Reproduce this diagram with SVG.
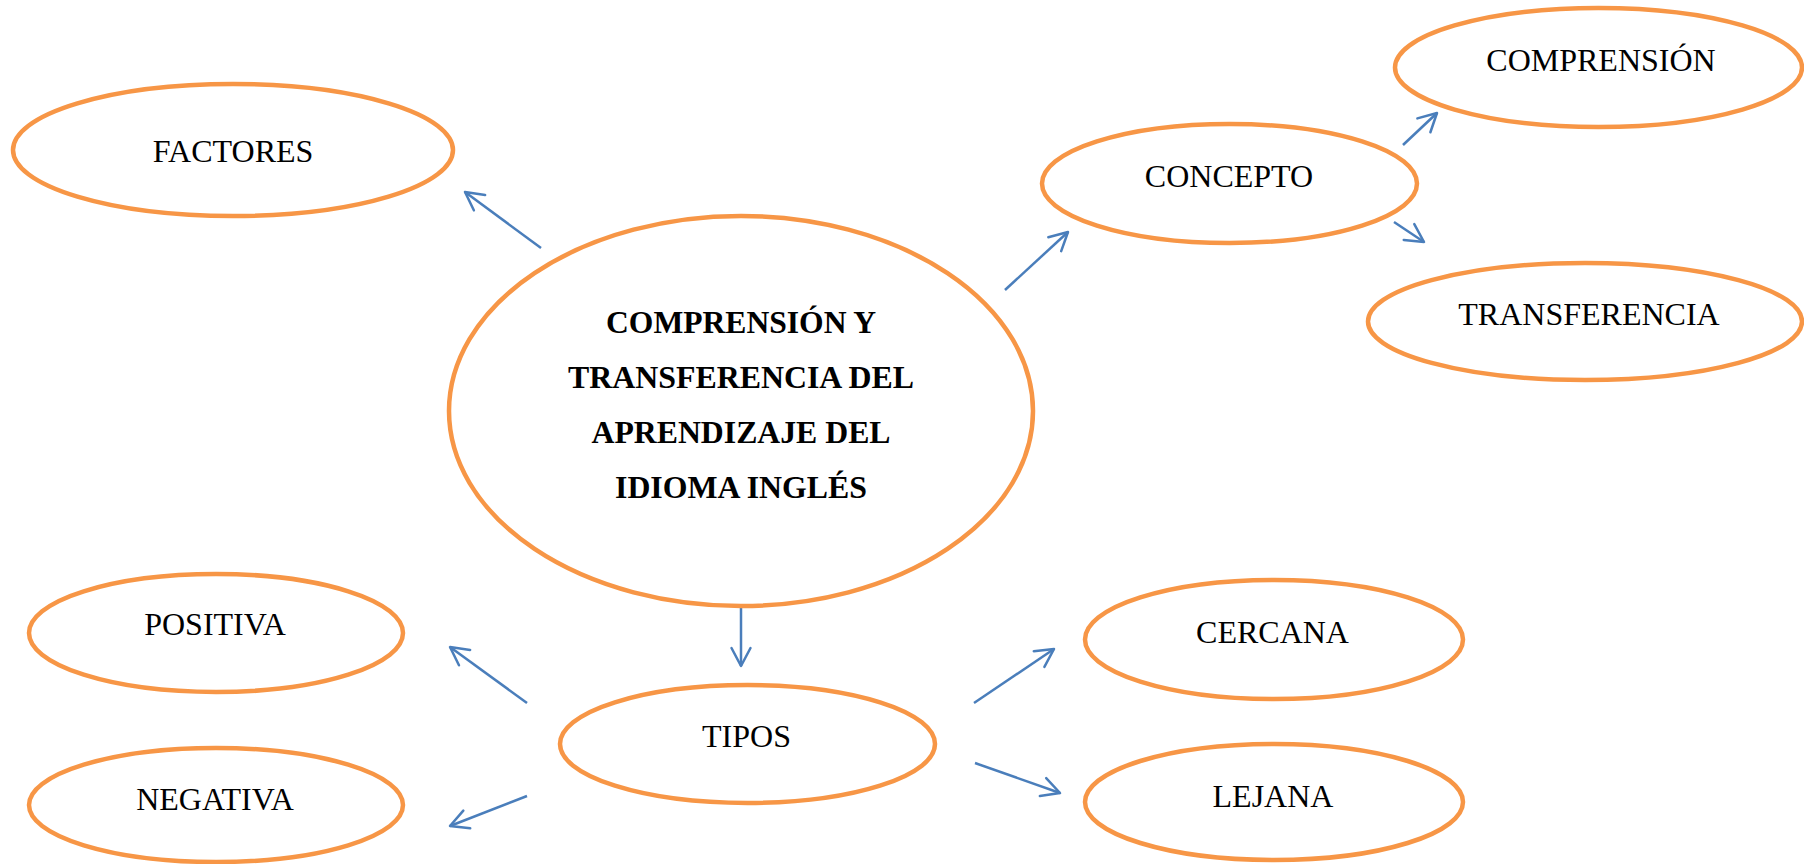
<svg xmlns="http://www.w3.org/2000/svg" width="1804" height="864" viewBox="0 0 1804 864">
<style>
.node ellipse{fill:#fff;stroke:#f79646;stroke-width:4.5}
.lbl{font-family:"Liberation Serif","Times New Roman",serif;font-size:32px;fill:#000;text-anchor:middle}
.main{font-family:"Liberation Serif","Times New Roman",serif;font-size:31px;font-weight:bold;fill:#000;text-anchor:middle}
.conn line{stroke:#4a7ebb;stroke-width:2.5;marker-end:url(#arr)}
</style>
<defs>
<marker id="arr" markerUnits="userSpaceOnUse" viewBox="-22 -12 26 24" markerWidth="26" markerHeight="24" refX="0" refY="0" orient="auto">
<path d="M-18,-9.5 L0,0 L-18,9.5" fill="none" stroke="#4a7ebb" stroke-width="2.5" stroke-linecap="round" stroke-linejoin="round"/>
</marker>
</defs>
<rect width="1804" height="864" fill="#fff"/>
<g id="connectors" class="conn">
<line x1="541" y1="248" x2="465" y2="192"/>
<line x1="1005" y1="290" x2="1068" y2="232"/>
<line x1="1403" y1="145" x2="1437" y2="113"/>
<line x1="1394" y1="222" x2="1424" y2="242"/>
<line x1="741" y1="606" x2="741" y2="666"/>
<line x1="527" y1="703" x2="450" y2="647"/>
<line x1="527" y1="796" x2="450" y2="826"/>
<line x1="974" y1="703" x2="1054" y2="649"/>
<line x1="975" y1="763" x2="1060" y2="793"/>
</g>
<g id="factores" class="node"><ellipse cx="233" cy="150" rx="220" ry="66"/><text class="lbl" x="233" y="162">FACTORES</text></g>
<g id="central" class="node"><ellipse cx="741" cy="411" rx="292" ry="195"/>
<text class="main" x="741" y="333" textLength="270" lengthAdjust="spacingAndGlyphs">COMPRENSIÓN Y</text>
<text class="main" x="741" y="388" textLength="346" lengthAdjust="spacingAndGlyphs">TRANSFERENCIA DEL</text>
<text class="main" x="741" y="443" textLength="299" lengthAdjust="spacingAndGlyphs">APRENDIZAJE DEL</text>
<text class="main" x="741" y="498" textLength="252" lengthAdjust="spacingAndGlyphs">IDIOMA INGLÉS</text>
</g>
<g id="concepto" class="node"><ellipse cx="1229.5" cy="183.5" rx="187.5" ry="59.5"/><text class="lbl" x="1229" y="187">CONCEPTO</text></g>
<g id="comprension" class="node"><ellipse cx="1598.5" cy="67.5" rx="203.5" ry="59.5"/><text class="lbl" x="1601" y="71">COMPRENSIÓN</text></g>
<g id="transferencia" class="node"><ellipse cx="1585" cy="321.5" rx="217" ry="58.5"/><text class="lbl" x="1589" y="325">TRANSFERENCIA</text></g>
<g id="tipos" class="node"><ellipse cx="747.5" cy="744" rx="187.5" ry="59"/><text class="lbl" x="746.5" y="747">TIPOS</text></g>
<g id="positiva" class="node"><ellipse cx="216" cy="633" rx="187" ry="59"/><text class="lbl" x="215" y="635">POSITIVA</text></g>
<g id="negativa" class="node"><ellipse cx="216" cy="805" rx="187" ry="57"/><text class="lbl" x="215" y="810">NEGATIVA</text></g>
<g id="cercana" class="node"><ellipse cx="1274" cy="639.5" rx="189" ry="59.5"/><text class="lbl" x="1272.5" y="643">CERCANA</text></g>
<g id="lejana" class="node"><ellipse cx="1274" cy="802" rx="189" ry="58"/><text class="lbl" x="1273" y="807">LEJANA</text></g>
</svg>
